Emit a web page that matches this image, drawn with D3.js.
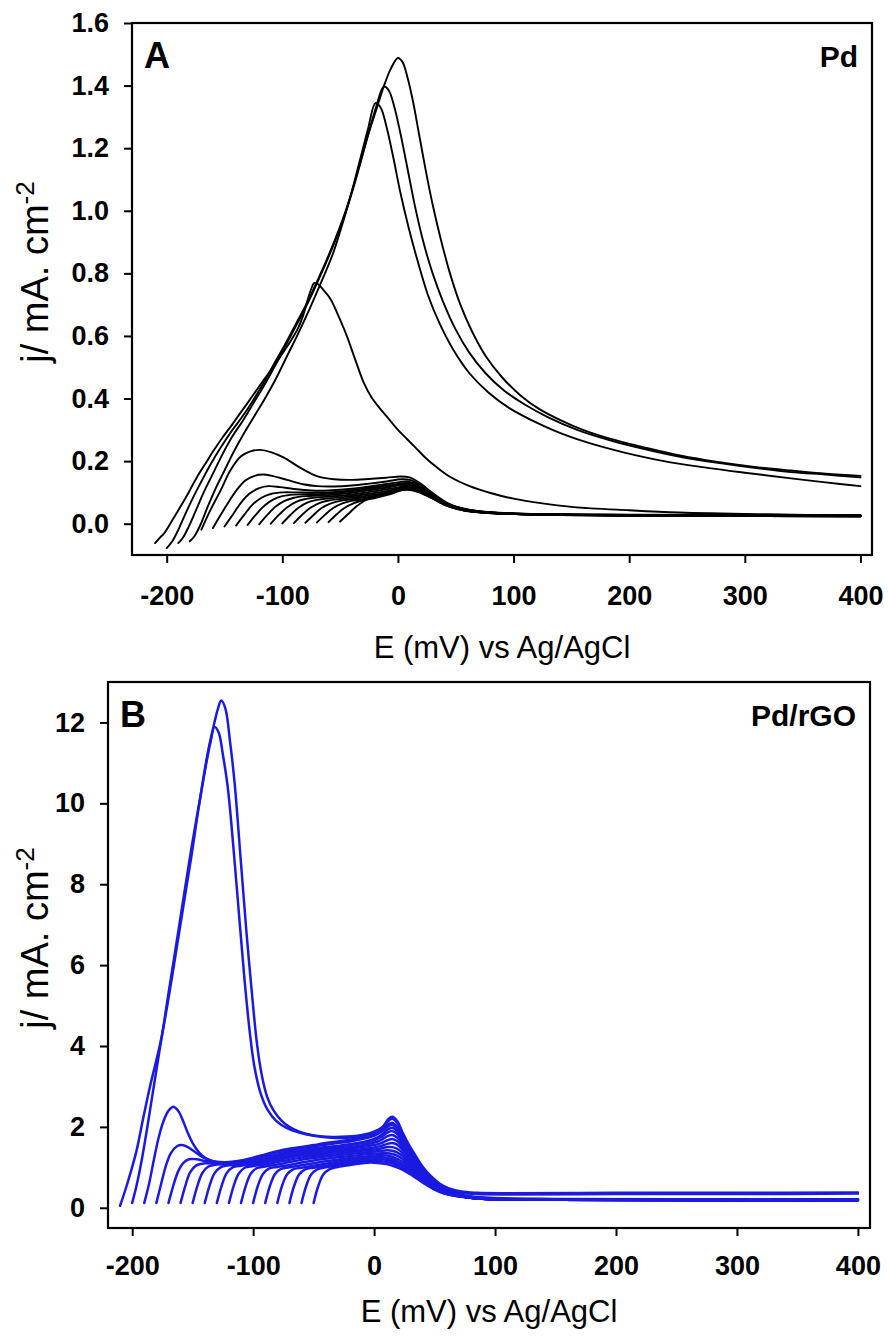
<!DOCTYPE html>
<html>
<head>
<meta charset="utf-8">
<script src="https://cdn.jsdelivr.net/npm/d3@7"></script>
<style>
  body { margin: 0; background: #fff; }
  svg text { font-family: "Liberation Sans", Arial, sans-serif; }
</style>
</head>
<body>
<svg id="chart" width="888" height="1340"></svg>
<script>
// tick values
const xTicks = [-200, -100, 0, 100, 200, 300, 400];
const pdYTicks = [0, 0.2, 0.4, 0.6, 0.8, 1.0, 1.2, 1.4, 1.6];
const rgoYTicks = [0, 2, 4, 6, 8, 10, 12];

// Pd: the four scans with a large stripping peak, [E mV, j mA cm-2]
const pdPeakCurves = [
  [[-210,-0.062],[-206,-0.045],[-202,-0.03],[-195,0.012],[-188,0.055],[-181,0.1],[-173.5,0.151],[-166,0.195],[-159,0.236],[-152,0.274],[-144.5,0.311],[-137,0.35],[-130,0.386],[-123,0.423],[-116,0.46],[-108.5,0.497],[-101.5,0.535],[-94,0.577],[-87,0.62],[-82,0.665],[-78,0.716],[-75,0.75],[-72.5,0.769],[-69,0.765],[-64,0.745],[-58,0.716],[-51,0.66],[-44,0.598],[-37,0.525],[-29.5,0.45],[-23,0.405],[-16,0.37],[-8,0.335],[0,0.3],[8,0.27],[16,0.24],[24,0.21],[32,0.185],[45,0.15],[62,0.12],[80,0.098],[100,0.08],[125,0.065],[152,0.053],[200,0.043],[243,0.036],[320,0.03],[400,0.026]],
  [[-200,-0.078],[-195,-0.055],[-190,-0.02],[-184,0.03],[-177,0.085],[-170,0.135],[-162,0.19],[-153,0.245],[-144,0.295],[-135,0.34],[-126,0.39],[-117,0.445],[-108,0.505],[-98,0.57],[-88,0.64],[-78,0.71],[-68,0.79],[-58,0.875],[-48,0.97],[-40,1.06],[-33,1.15],[-26,1.24],[-19,1.32],[-12,1.4],[-6,1.455],[0,1.488],[4,1.475],[8,1.43],[13,1.35],[18,1.25],[24,1.13],[30,1.02],[37,0.91],[45,0.8],[54,0.7],[64,0.615],[76,0.535],[90,0.468],[106,0.41],[122,0.367],[140,0.332],[160,0.3],[185,0.27],[215,0.242],[245,0.217],[275,0.198],[305,0.183],[340,0.17],[370,0.16],[400,0.153]],
  [[-190,-0.062],[-186,-0.045],[-181,-0.01],[-175,0.04],[-168,0.1],[-160,0.16],[-152,0.22],[-143,0.28],[-134,0.33],[-125,0.385],[-116,0.44],[-107,0.5],[-97,0.57],[-87,0.64],[-78,0.705],[-68,0.785],[-58,0.87],[-48,0.965],[-40,1.055],[-33,1.145],[-26,1.24],[-19,1.33],[-12.2,1.397],[-8,1.385],[-3,1.33],[2,1.25],[8,1.14],[15,1.01],[22,0.9],[30,0.8],[39,0.71],[50,0.62],[62,0.545],[76,0.48],[92,0.425],[110,0.38],[130,0.34],[155,0.3],[185,0.265],[215,0.237],[245,0.213],[275,0.195],[305,0.18],[340,0.165],[370,0.157],[400,0.148]],
  [[-180,-0.056],[-176,-0.04],[-171,-0.005],[-165,0.05],[-158,0.11],[-150,0.17],[-142,0.23],[-133,0.29],[-124,0.345],[-115,0.4],[-106,0.46],[-96,0.535],[-86,0.61],[-76,0.69],[-66,0.775],[-56,0.865],[-47,0.97],[-40,1.06],[-33,1.16],[-26,1.26],[-19.4,1.344],[-15,1.33],[-10,1.27],[-4,1.17],[2,1.06],[9,0.95],[17,0.84],[26,0.73],[36,0.64],[48,0.555],[62,0.48],[78,0.42],[96,0.37],[116,0.33],[140,0.29],[165,0.258],[195,0.228],[230,0.2],[265,0.18],[300,0.163],[340,0.145],[370,0.132],[400,0.12]]
];

// Pd: the later scans, lower limit from -170 to -50 mV
const pdSmallCurves = [
  [[-170,-0.019],[-162,0.045],[-153,0.109],[-145,0.17],[-136,0.215],[-127,0.232],[-119,0.236],[-110,0.229],[-99,0.212],[-85,0.18],[-70,0.152],[-55,0.142],[-40,0.14],[-25,0.143],[-10,0.147],[2,0.151],[10,0.148],[19,0.13],[30,0.098],[45,0.062],[60,0.046],[80,0.037],[110,0.032],[200,0.029],[400,0.028]],
  [[-160,-0.014],[-153,0.03],[-147,0.066],[-140,0.105],[-132,0.138],[-124,0.153],[-117,0.157],[-108,0.152],[-96,0.14],[-82,0.126],[-70,0.12],[-55,0.119],[-40,0.122],[-25,0.128],[-10,0.135],[3,0.142],[11,0.139],[20,0.122],[31,0.092],[45,0.06],[60,0.045],[80,0.036],[110,0.031],[200,0.028],[400,0.027]],
  [[-150,-0.009],[-143,0.028],[-136,0.066],[-128,0.097],[-120,0.114],[-112,0.12],[-102,0.117],[-90,0.111],[-75,0.106],[-60,0.106],[-45,0.11],[-30,0.116],[-15,0.124],[0,0.132],[8,0.135],[18,0.124],[29,0.097],[42,0.066],[57,0.047],[78,0.037],[110,0.031],[200,0.028],[400,0.026]],
  [[-140,-0.006],[-133,0.028],[-126,0.06],[-118,0.083],[-110,0.095],[-100,0.1],[-88,0.1],[-75,0.099],[-60,0.1],[-45,0.105],[-30,0.112],[-15,0.12],[0,0.127],[8,0.13],[18,0.12],[29,0.095],[42,0.065],[57,0.046],[78,0.036],[110,0.031],[200,0.027],[400,0.026]],
  [[-130,-0.004],[-123,0.028],[-116,0.056],[-108,0.077],[-100,0.088],[-90,0.093],[-78,0.094],[-65,0.095],[-50,0.099],[-35,0.106],[-20,0.114],[-5,0.122],[6,0.127],[17,0.118],[28,0.094],[42,0.064],[57,0.046],[78,0.036],[110,0.031],[200,0.027],[400,0.025]],
  [[-120,-0.002],[-113,0.028],[-106,0.054],[-98,0.073],[-90,0.083],[-80,0.088],[-68,0.09],[-55,0.093],[-40,0.099],[-25,0.107],[-10,0.115],[5,0.124],[16,0.116],[28,0.092],[42,0.063],[57,0.045],[78,0.036],[110,0.03],[200,0.027],[400,0.025]],
  [[-110,0],[-103,0.028],[-96,0.052],[-88,0.07],[-80,0.079],[-70,0.084],[-58,0.087],[-45,0.091],[-30,0.098],[-15,0.107],[0,0.116],[6,0.121],[16,0.114],[28,0.09],[42,0.062],[57,0.045],[78,0.035],[110,0.03],[200,0.027],[400,0.025]],
  [[-100,0.001],[-93,0.028],[-86,0.051],[-78,0.068],[-70,0.076],[-60,0.081],[-48,0.085],[-35,0.09],[-20,0.098],[-5,0.108],[6,0.118],[16,0.112],[28,0.089],[42,0.061],[57,0.044],[78,0.035],[110,0.03],[200,0.027],[400,0.025]],
  [[-90,0.002],[-83,0.028],[-76,0.05],[-68,0.066],[-60,0.074],[-50,0.079],[-38,0.084],[-25,0.09],[-10,0.1],[6,0.116],[16,0.11],[28,0.088],[42,0.06],[57,0.044],[78,0.035],[110,0.03],[200,0.026],[400,0.024]],
  [[-80,0.003],[-73,0.028],[-66,0.05],[-58,0.065],[-50,0.073],[-40,0.078],[-28,0.084],[-15,0.092],[-2,0.104],[7,0.114],[17,0.108],[28,0.087],[42,0.06],[57,0.043],[78,0.035],[110,0.03],[200,0.026],[400,0.024]],
  [[-70,0.004],[-63,0.029],[-56,0.05],[-48,0.065],[-40,0.073],[-30,0.078],[-18,0.086],[-6,0.097],[7,0.112],[17,0.106],[28,0.086],[42,0.059],[57,0.043],[78,0.035],[110,0.03],[200,0.026],[400,0.024]],
  [[-60,0.005],[-53,0.03],[-46,0.051],[-38,0.066],[-30,0.075],[-20,0.082],[-8,0.093],[7,0.11],[17,0.104],[28,0.085],[42,0.058],[57,0.043],[78,0.034],[110,0.03],[200,0.026],[400,0.024]],
  [[-50,0.007],[-43,0.031],[-36,0.055],[-28,0.075],[-20,0.088],[-10,0.097],[0,0.105],[8,0.108],[17,0.102],[28,0.084],[42,0.058],[57,0.042],[78,0.034],[110,0.03],[200,0.026],[400,0.024]]
];

// Pd/rGO: scans with the large peaks and the first small peaks
const rgoPeakCurves = [
  [[-210,0.05],[-204,0.6],[-196.5,1.4],[-191,2.2],[-185.5,2.97],[-180,3.65],[-175.5,4.25],[-170.5,5.2],[-161,7.0],[-151,8.9],[-144,10.1],[-137.5,11.25],[-132,12.0],[-129,12.35],[-126.4,12.54],[-123,12.35],[-119,11.5],[-115.3,10.5],[-110,8.5],[-105.5,6.8],[-101.6,5.5],[-97,4.1],[-93,3.3],[-88.5,2.75],[-83,2.4],[-77,2.17],[-70,2.0],[-62,1.88],[-50,1.79],[-35,1.75],[-22,1.76],[-10,1.8],[0,1.88],[7,2.0],[12,2.2],[15,2.25],[19,2.15],[23,1.9],[28,1.6],[33,1.35],[40,1.02],[47,0.78],[54,0.6],[62,0.48],[72,0.4],[85,0.37],[110,0.36],[200,0.37],[300,0.37],[400,0.38]],
  [[-200,0.12],[-196,0.6],[-192,1.2],[-188,1.9],[-184,2.65],[-180,3.4],[-176,4.15],[-171,5.0],[-166,5.9],[-158,7.4],[-151,8.7],[-145,9.9],[-139,10.95],[-135,11.55],[-131.9,11.89],[-128.5,11.75],[-125,11.2],[-121,10.4],[-116,8.8],[-111,7.0],[-107,5.6],[-103,4.4],[-99,3.5],[-94,2.85],[-88,2.42],[-81,2.15],[-72,1.97],[-62,1.86],[-50,1.78],[-35,1.73],[-22,1.73],[-10,1.77],[0,1.85],[7,1.98],[12,2.15],[15,2.2],[19,2.1],[23,1.85],[28,1.56],[33,1.3],[40,0.98],[47,0.74],[54,0.56],[62,0.44],[72,0.37],[85,0.34],[110,0.33],[200,0.34],[300,0.34],[400,0.35]],
  [[-190,0.12],[-186,0.6],[-182,1.2],[-178,1.75],[-174,2.15],[-170,2.4],[-166,2.5],[-162,2.4],[-158,2.15],[-154,1.85],[-150,1.6],[-145,1.38],[-140,1.24],[-134,1.16],[-127,1.13],[-120,1.13],[-110,1.17],[-100,1.24],[-90,1.32],[-80,1.4],[-70,1.46],[-60,1.5],[-50,1.55],[-40,1.6],[-30,1.64],[-20,1.68],[-10,1.74],[0,1.82],[6,1.92],[11,2.05],[15,2.1],[19,2.0],[24,1.75],[29,1.45],[35,1.15],[42,0.85],[50,0.6],[58,0.45],[68,0.35],[80,0.28],[100,0.24],[150,0.22],[250,0.21],[400,0.2]],
  [[-180,0.12],[-176,0.6],[-172,1.05],[-168,1.35],[-163,1.52],[-159,1.55],[-154,1.5],[-148,1.38],[-141,1.24],[-134,1.16],[-127,1.12],[-120,1.12],[-110,1.16],[-100,1.22],[-90,1.3],[-80,1.37],[-70,1.43],[-60,1.48],[-50,1.52],[-40,1.56],[-30,1.6],[-20,1.64],[-10,1.7],[0,1.78],[6,1.88],[11,2.0],[15,2.05],[19,1.96],[24,1.72],[29,1.42],[35,1.12],[42,0.83],[50,0.58],[58,0.43],[68,0.33],[80,0.27],[100,0.23],[150,0.21],[250,0.2],[400,0.2]]
];

// Pd/rGO: later scans, lower limit from -170 to -50 mV
const rgoSmallCurves = [
  [[-170,0.12],[-166,0.55],[-162,0.9],[-158,1.1],[-153,1.2],[-147,1.2],[-140,1.16],[-132,1.12],[-122,1.1],[-110,1.13],[-100,1.18],[-90,1.25],[-80,1.32],[-70,1.38],[-60,1.43],[-50,1.47],[-40,1.5],[-30,1.53],[-20,1.57],[-10,1.62],[0,1.7],[6,1.8],[11,1.93],[15,1.98],[19,1.9],[24,1.68],[29,1.4],[35,1.1],[42,0.82],[50,0.57],[58,0.42],[68,0.32],[80,0.26],[100,0.22],[150,0.2],[250,0.2],[400,0.2]],
  [[-160,0.12],[-156,0.55],[-152,0.88],[-147,1.05],[-140,1.1],[-130,1.1],[-120,1.11],[-110,1.13],[-100,1.18],[-90,1.24],[-80,1.3],[-70,1.36],[-60,1.41],[-50,1.45],[-40,1.48],[-30,1.51],[-20,1.55],[-10,1.6],[0,1.67],[6,1.75],[11,1.86],[15,1.9],[19,1.83],[24,1.63],[29,1.36],[35,1.07],[42,0.8],[50,0.56],[58,0.41],[68,0.31],[80,0.25],[100,0.22],[150,0.2],[250,0.2],[400,0.19]],
  [[-150,0.12],[-146,0.55],[-142,0.86],[-137,1.02],[-130,1.07],[-120,1.08],[-110,1.1],[-100,1.14],[-90,1.2],[-80,1.26],[-70,1.32],[-60,1.37],[-50,1.41],[-40,1.44],[-30,1.47],[-20,1.5],[-10,1.55],[0,1.61],[6,1.68],[11,1.77],[15,1.8],[19,1.74],[24,1.56],[29,1.31],[35,1.04],[42,0.78],[50,0.55],[58,0.41],[68,0.31],[80,0.25],[100,0.21],[150,0.2],[250,0.19],[400,0.19]],
  [[-140,0.12],[-136,0.55],[-132,0.85],[-127,1.0],[-120,1.05],[-110,1.07],[-100,1.1],[-90,1.16],[-80,1.22],[-70,1.28],[-60,1.33],[-50,1.37],[-40,1.4],[-30,1.43],[-20,1.46],[-10,1.5],[0,1.55],[6,1.6],[11,1.67],[15,1.7],[19,1.65],[24,1.49],[29,1.26],[35,1.0],[42,0.76],[50,0.54],[58,0.4],[68,0.3],[80,0.25],[100,0.21],[150,0.2],[250,0.19],[400,0.19]],
  [[-130,0.12],[-126,0.55],[-122,0.85],[-117,1.0],[-110,1.04],[-100,1.07],[-90,1.12],[-80,1.18],[-70,1.24],[-60,1.29],[-50,1.33],[-40,1.36],[-30,1.39],[-20,1.42],[-10,1.45],[0,1.49],[6,1.53],[11,1.58],[15,1.6],[19,1.56],[24,1.42],[29,1.21],[35,0.97],[42,0.74],[50,0.53],[58,0.4],[68,0.3],[80,0.25],[100,0.21],[150,0.2],[250,0.19],[400,0.19]],
  [[-120,0.12],[-116,0.55],[-112,0.84],[-107,0.99],[-100,1.03],[-90,1.07],[-80,1.13],[-70,1.19],[-60,1.24],[-50,1.28],[-40,1.32],[-30,1.35],[-20,1.38],[-10,1.41],[0,1.44],[6,1.47],[11,1.5],[15,1.5],[19,1.46],[24,1.34],[29,1.15],[35,0.94],[42,0.72],[50,0.52],[58,0.39],[68,0.3],[80,0.25],[100,0.21],[150,0.2],[250,0.19],[400,0.19]],
  [[-110,0.12],[-106,0.55],[-102,0.84],[-97,0.98],[-90,1.02],[-80,1.07],[-70,1.13],[-60,1.19],[-50,1.23],[-40,1.27],[-30,1.3],[-20,1.33],[-10,1.36],[0,1.39],[6,1.41],[11,1.42],[15,1.41],[19,1.37],[24,1.27],[29,1.1],[35,0.9],[42,0.7],[50,0.51],[58,0.39],[68,0.3],[80,0.25],[100,0.21],[150,0.2],[250,0.19],[400,0.19]],
  [[-100,0.12],[-96,0.55],[-92,0.83],[-87,0.97],[-80,1.01],[-70,1.06],[-60,1.12],[-50,1.17],[-40,1.21],[-30,1.25],[-20,1.28],[-10,1.31],[0,1.34],[6,1.35],[11,1.35],[15,1.33],[19,1.29],[24,1.2],[29,1.05],[35,0.87],[42,0.68],[50,0.5],[58,0.38],[68,0.3],[80,0.25],[100,0.21],[150,0.2],[250,0.19],[400,0.19]],
  [[-90,0.12],[-86,0.55],[-82,0.83],[-77,0.96],[-70,1.0],[-60,1.05],[-50,1.1],[-40,1.15],[-30,1.19],[-20,1.23],[-10,1.26],[0,1.29],[6,1.3],[11,1.29],[15,1.26],[19,1.21],[24,1.13],[29,1.0],[35,0.84],[42,0.66],[50,0.49],[58,0.38],[68,0.3],[80,0.25],[100,0.21],[150,0.2],[250,0.19],[400,0.19]],
  [[-80,0.12],[-76,0.55],[-72,0.82],[-67,0.95],[-60,0.99],[-50,1.04],[-40,1.09],[-30,1.14],[-20,1.18],[-10,1.22],[0,1.25],[6,1.25],[11,1.23],[15,1.2],[19,1.15],[24,1.07],[29,0.96],[35,0.81],[42,0.64],[50,0.48],[58,0.37],[68,0.3],[80,0.25],[100,0.21],[150,0.2],[250,0.19],[400,0.19]],
  [[-70,0.12],[-66,0.55],[-62,0.82],[-57,0.95],[-50,0.99],[-40,1.04],[-30,1.09],[-20,1.14],[-10,1.18],[0,1.2],[6,1.2],[11,1.18],[15,1.15],[19,1.1],[24,1.02],[29,0.92],[35,0.78],[42,0.62],[50,0.47],[58,0.37],[68,0.3],[80,0.25],[100,0.21],[150,0.2],[250,0.19],[400,0.19]],
  [[-60,0.12],[-56,0.55],[-52,0.82],[-47,0.95],[-40,1.0],[-30,1.05],[-20,1.1],[-10,1.14],[0,1.16],[6,1.15],[11,1.13],[15,1.1],[19,1.05],[24,0.98],[29,0.88],[35,0.75],[42,0.6],[50,0.46],[58,0.36],[68,0.29],[80,0.25],[100,0.21],[150,0.2],[250,0.19],[400,0.19]],
  [[-50,0.12],[-46,0.55],[-42,0.82],[-37,0.95],[-30,1.01],[-20,1.06],[-10,1.1],[-3,1.12],[3,1.11],[10,1.08],[15,1.04],[20,0.99],[25,0.92],[30,0.83],[36,0.71],[43,0.57],[50,0.45],[58,0.35],[68,0.29],[80,0.25],[100,0.21],[150,0.2],[250,0.19],[400,0.19]]
];

const svg = d3.select('#chart');

function drawPanel(p){
  const x = d3.scaleLinear().domain(p.xDomain).range([p.left, p.right]);
  const y = d3.scaleLinear().domain(p.yDomain).range([p.bottom, p.top]);
  const g = svg.append('g');

  const line = d3.line().x(d=>x(d[0])).y(d=>y(d[1])).curve(d3.curveCatmullRom.alpha(0.5));
  g.append('g').selectAll('path').data(p.curves).enter().append('path')
    .attr('d', line).attr('fill','none').attr('stroke', p.color)
    .attr('stroke-width', p.lineWidth).attr('stroke-linejoin','round').attr('stroke-linecap','round');

  // plain hyphen for negatives, as in the original
  const xa = g.append('g').attr('transform',`translate(0,${p.bottom})`)
    .call(d3.axisBottom(x).tickValues(xTicks).tickSize(8).tickPadding(p.xPad).tickSizeOuter(0).tickFormat(d=>String(d)));
  const ya = g.append('g').attr('transform',`translate(${p.left},0)`)
    .call(d3.axisLeft(y).tickValues(p.yTicks).tickSize(8).tickPadding(15).tickSizeOuter(0).tickFormat(p.yFormat));
  [xa, ya].forEach(a=>{
    a.select('.domain').remove();
    a.selectAll('line').attr('stroke','#000').attr('stroke-width',2);
    a.selectAll('text').attr('fill','#000').style('font-size','27px').style('font-weight','bold').style('font-family','"Liberation Sans", Arial, sans-serif');
  });

  g.append('rect').attr('x',p.left).attr('y',p.top).attr('width',p.right-p.left).attr('height',p.bottom-p.top)
    .attr('fill','none').attr('stroke','#000').attr('stroke-width',2.2);

  g.append('text').attr('x',p.left+12).attr('y',p.top+45).style('font-size','36px').style('font-weight','bold').text(p.letter);
  g.append('text').attr('x',p.right-14).attr('y',p.top+44).attr('text-anchor','end').style('font-size','30px').style('font-weight','bold').text(p.name);

  g.append('text').attr('x',(p.left+p.right)/2).attr('y',p.bottom+p.titleGap).attr('text-anchor','middle')
    .style('font-size','31px').text('E (mV) vs Ag/AgCl');

  const yt = g.append('text').attr('transform',`translate(48,${p.yTitleY}) rotate(-90)`).attr('text-anchor','middle').style('font-size','38px');
  yt.append('tspan').text('j/ mA. cm');
  yt.append('tspan').attr('dy',-14).style('font-size','26px').text('-2');
}

drawPanel({
  left:132, right:872, top:23, bottom:555,
  xDomain:[-230,410], yDomain:[-0.1,1.6], yTicks:pdYTicks, yFormat:d3.format('.1f'),
  curves: pdPeakCurves.concat(pdSmallCurves), color:'#000', lineWidth:1.9,
  letter:'A', name:'Pd', yTitleY:272, xPad:23, titleGap:103
});

drawPanel({
  left:108, right:870, top:682, bottom:1228,
  xDomain:[-220,410], yDomain:[-0.5,13], yTicks:rgoYTicks, yFormat:d3.format('d'),
  curves: rgoPeakCurves.concat(rgoSmallCurves), color:'#1a1ae0', lineWidth:2.5,
  letter:'B', name:'Pd/rGO', yTitleY:938, xPad:20, titleGap:94
});
</script>
</body>
</html>
